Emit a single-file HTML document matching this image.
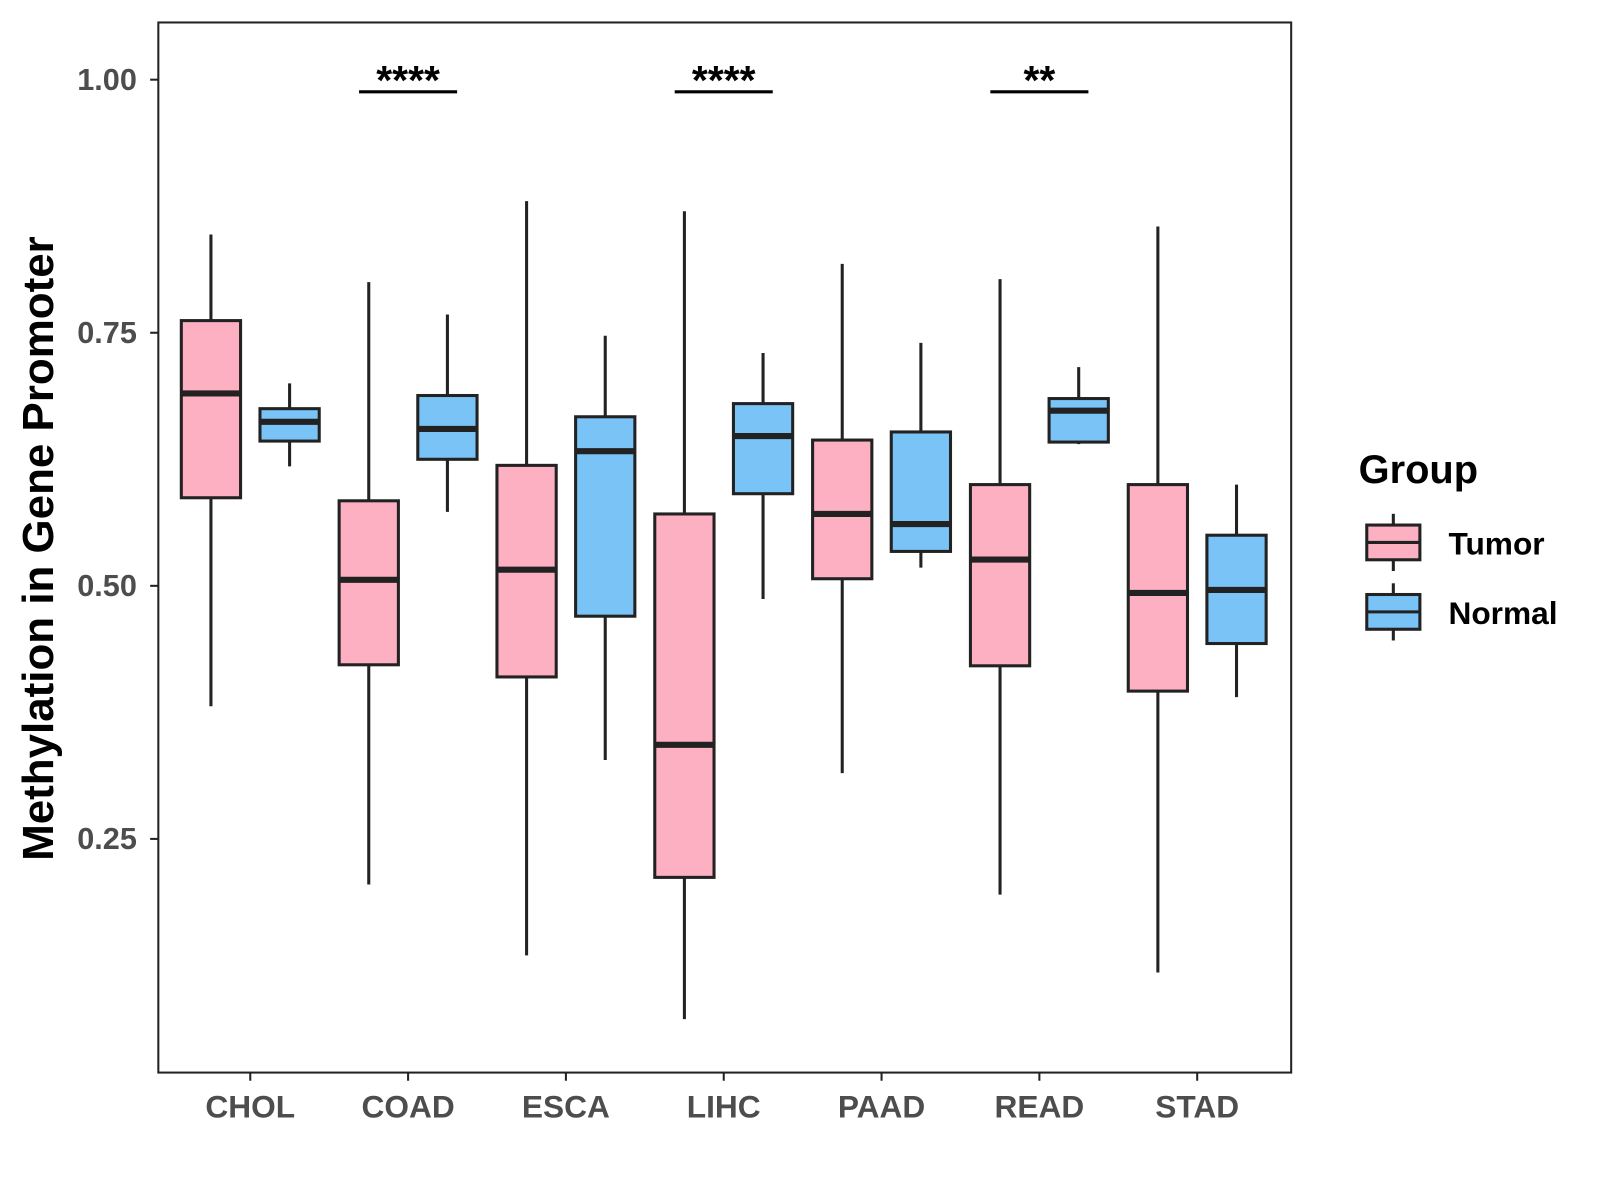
<!DOCTYPE html>
<html><head><meta charset="utf-8"><style>
html,body{margin:0;padding:0;background:#fff}
svg{display:block;font-family:"Liberation Sans",Arial,sans-serif}
</style></head><body>
<svg id="chart" width="1600" height="1200" viewBox="0 0 1600 1200">
<g transform="scale(1.0215)">
<rect x="155" y="22" width="1109" height="1028" fill="#fff" stroke="#222" stroke-width="2"/>
<g id="marks"></g>
<g id="axes"></g>
<text transform="translate(52,537) rotate(-90)" text-anchor="middle" font-size="43" font-weight="bold" fill="#000">Methylation in Gene Promoter</text>
<g>
<text x="1330" y="473" font-size="39" font-weight="bold">Group</text>
<g>
<line x1="1364" y1="503" x2="1364" y2="559" stroke="#222" stroke-width="3"/>
<rect x="1338" y="514" width="52" height="34" fill="#FDB0C2" stroke="#222" stroke-width="3"/>
<line x1="1338" y1="531" x2="1390" y2="531" stroke="#222" stroke-width="3"/>
<text x="1418" y="543" font-size="31" font-weight="bold">Tumor</text></g>
<g>
<line x1="1364" y1="571" x2="1364" y2="627" stroke="#222" stroke-width="3"/>
<rect x="1338" y="582" width="52" height="34" fill="#7AC3F7" stroke="#222" stroke-width="3"/>
<line x1="1338" y1="599" x2="1390" y2="599" stroke="#222" stroke-width="3"/>
<text x="1418" y="611" font-size="31" font-weight="bold">Normal</text></g>
</g>
</g>
</svg>
<script>
const categories=["CHOL","COAD","ESCA","LIHC","PAAD","READ","STAD"];
const tumorMin=[0.381,0.205,0.135,0.072,0.315,0.195,0.118];
const tumorQ1=[0.587,0.422,0.410,0.212,0.507,0.421,0.396];
const tumorMed=[0.690,0.506,0.516,0.343,0.571,0.526,0.493];
const tumorQ3=[0.762,0.584,0.619,0.571,0.644,0.600,0.600];
const tumorMax=[0.847,0.800,0.880,0.870,0.818,0.803,0.855];
const normalMin=[0.618,0.573,0.328,0.487,0.518,0.640,0.390];
const normalQ1=[0.643,0.625,0.470,0.591,0.534,0.642,0.443];
const normalMed=[0.662,0.655,0.633,0.648,0.561,0.673,0.496];
const normalQ3=[0.675,0.688,0.667,0.680,0.652,0.685,0.550];
const normalMax=[0.700,0.768,0.747,0.730,0.740,0.716,0.600];
const yTicks=[0.25,0.50,0.75,1.00];
const yTickLabels=["0.25","0.50","0.75","1.00"];
const sigCats=["COAD","LIHC","READ"];
const sigLabels=["****","****","**"];
const sigLevel=0.988;

const NS="http://www.w3.org/2000/svg";
function y(v){return 78+(1-v)*991;}
function x(i){return 245+i*154.5;}
function el(tag,attrs,parent){const e=document.createElementNS(NS,tag);for(const k in attrs)e.setAttribute(k,attrs[k]);parent.appendChild(e);return e;}
const marks=document.getElementById('marks'),axes=document.getElementById('axes');
function box(cx,mn,q1,md,q3,mx,fill,name){
  const g=el('g',{},marks);
  
  
  el('line',{x1:cx,x2:cx,y1:y(mx),y2:y(mn),stroke:'#222','stroke-width':3},g);
  el('rect',{x:cx-29,y:y(q3),width:58,height:y(q1)-y(q3),fill:fill,stroke:'#222','stroke-width':3},g);
  el('line',{x1:cx-29,x2:cx+29,y1:y(md),y2:y(md),stroke:'#222','stroke-width':6},g);
}
categories.forEach((c,i)=>{
  box(x(i)-38.5,tumorMin[i],tumorQ1[i],tumorMed[i],tumorQ3[i],tumorMax[i],'#FDB0C2','box-tumor-'+c.toLowerCase());
  box(x(i)+38.5,normalMin[i],normalQ1[i],normalMed[i],normalQ3[i],normalMax[i],'#7AC3F7','box-normal-'+c.toLowerCase());
  el('line',{x1:x(i),x2:x(i),y1:1050,y2:1058,stroke:'#222','stroke-width':2},axes);
  const t=el('text',{x:x(i),y:1094,'text-anchor':'middle','font-size':31,'font-weight':'bold',fill:'#4d4d4d'},axes);
  t.textContent=c;
  
  
});
yTicks.forEach((v,i)=>{
  el('line',{x1:147,x2:155,y1:y(v),y2:y(v),stroke:'#222','stroke-width':2},axes);
  const t=el('text',{x:134,y:y(v)+10,'text-anchor':'end','font-size':30,'font-weight':'bold',fill:'#4d4d4d'},axes);
  t.textContent=yTickLabels[i];
  
  
});
sigCats.forEach((c,k)=>{
  const i=categories.indexOf(c);
  const g=el('g',{},marks);
  
  
  el('line',{x1:x(i)-48,x2:x(i)+48,y1:y(sigLevel),y2:y(sigLevel),stroke:'#000','stroke-width':3},g);
  const t=el('text',{x:x(i),y:y(sigLevel)+2,'text-anchor':'middle','font-size':40,'font-weight':'bold'},g);
  t.textContent=sigLabels[k];
});
</script>
</body></html>
